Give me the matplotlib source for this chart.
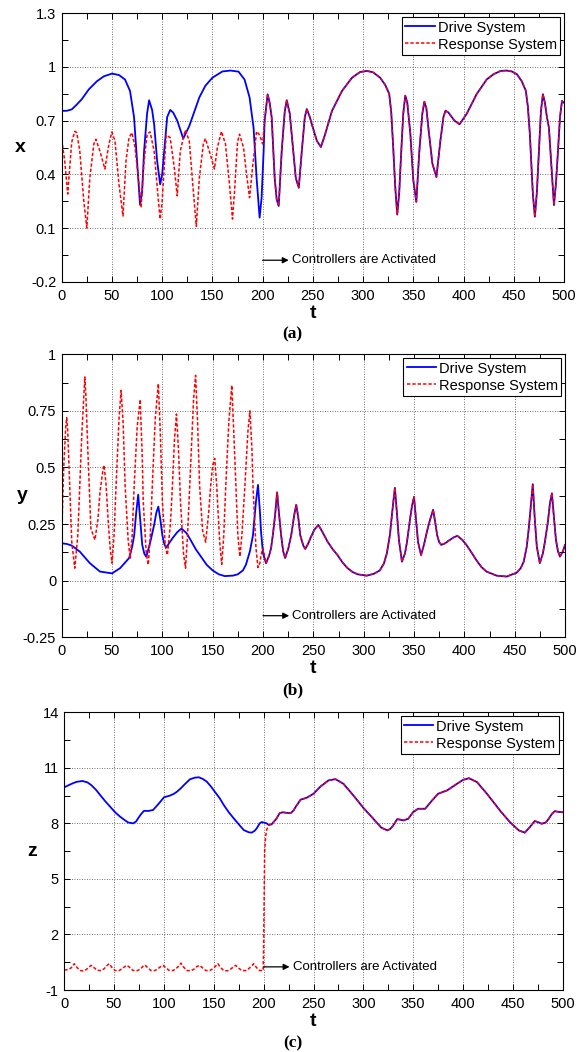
import numpy as np
import matplotlib
matplotlib.use('Agg')
import matplotlib.pyplot as plt

plt.rcParams['font.family'] = ['Liberation Sans', 'DejaVu Sans']
plt.rcParams['axes.unicode_minus'] = False

# ---- panel (a): x ----
t_xd = np.array([0, 5, 10, 15, 20, 27, 35, 42, 50, 57, 63, 68, 72, 75, 78, 80, 82, 85, 87, 90,
                 92, 95, 98, 100, 102, 105, 108, 111, 115, 121, 127, 132, 137, 143, 150, 160, 168,
                 176, 182, 187, 191, 194, 197, 199, 201, 202, 205, 207, 209, 212, 214, 216, 219,
                 222, 224, 227, 229, 233, 236, 239, 242, 244, 247, 249, 254, 258, 262, 269, 279,
                 289, 297, 304, 310, 317, 322, 326, 328, 330, 332, 334, 336, 338, 340, 342, 344,
                 347, 350, 353, 356, 359, 361, 363, 365, 369, 373, 377, 380, 382, 385, 387, 391,
                 396, 403, 413, 423, 430, 437, 443, 448, 453, 458, 462, 464, 466, 469, 471, 473,
                 475, 477, 479, 481, 483, 485, 488, 490, 492, 494, 496, 498, 500])
x_d = np.array([0.755, 0.755, 0.763, 0.79, 0.82, 0.875, 0.92, 0.948, 0.963, 0.955, 0.93, 0.866,
                0.72, 0.475, 0.23, 0.30, 0.53, 0.74, 0.814, 0.76, 0.68, 0.475, 0.344, 0.40, 0.53,
                0.72, 0.76, 0.745, 0.70, 0.60, 0.67, 0.75, 0.83, 0.895, 0.94, 0.975, 0.98, 0.974,
                0.93, 0.83, 0.66, 0.38, 0.158, 0.27, 0.53, 0.70, 0.847, 0.80, 0.72, 0.38, 0.26,
                0.223, 0.53, 0.75, 0.814, 0.74, 0.62, 0.38, 0.325, 0.53, 0.72, 0.765, 0.72, 0.68,
                0.587, 0.553, 0.62, 0.754, 0.866, 0.94, 0.972, 0.978, 0.97, 0.94, 0.90, 0.85,
                0.75, 0.55, 0.33, 0.175, 0.30, 0.53, 0.74, 0.84, 0.80, 0.63, 0.367, 0.246, 0.53,
                0.74, 0.806, 0.77, 0.66, 0.46, 0.385, 0.59, 0.72, 0.756, 0.745, 0.73, 0.70, 0.68,
                0.737, 0.848, 0.93, 0.96, 0.978, 0.98, 0.975, 0.96, 0.92, 0.867, 0.78, 0.626,
                0.29, 0.163, 0.30, 0.53, 0.75, 0.848, 0.80, 0.72, 0.66, 0.40, 0.228, 0.35, 0.53,
                0.72, 0.81, 0.80])
t_xr = np.array([0, 3, 6, 8, 10, 13, 15, 18, 22, 25, 28, 32, 34, 38, 43, 47, 50, 53, 57, 61,
                 64, 67, 70, 73, 77, 79, 82, 85, 88, 92, 96, 98, 100, 102, 104, 108, 112, 115,
                 118, 123, 127, 131, 134, 137, 141, 143, 148, 152, 155, 159, 163, 167, 170, 172,
                 175, 177, 181, 184, 187, 190, 194, 197, 200, 202])
x_r = np.array([0.596, 0.475, 0.29, 0.44, 0.58, 0.64, 0.633, 0.53, 0.25, 0.10, 0.38, 0.57,
                0.596, 0.53, 0.43, 0.57, 0.637, 0.587, 0.345, 0.167, 0.475, 0.605, 0.633, 0.55,
                0.345, 0.214, 0.475, 0.623, 0.637, 0.53, 0.27, 0.15, 0.25, 0.44, 0.62, 0.605,
                0.44, 0.28, 0.53, 0.648, 0.587, 0.307, 0.11, 0.38, 0.57, 0.60, 0.51, 0.43, 0.55,
                0.64, 0.57, 0.345, 0.15, 0.30, 0.58, 0.624, 0.55, 0.40, 0.27, 0.44, 0.64, 0.62,
                0.57, 0.70])

# ---- panel (b): y ----
t_yd = np.array([0, 5, 10, 18, 28, 38, 50, 58, 64, 67, 70, 72, 74, 76, 78, 80, 82, 84, 88, 92,
                 94, 96, 98, 100, 102, 104, 110, 115, 119, 124, 128, 133, 138, 144, 150, 156,
                 162, 170, 175, 180, 183, 187, 190, 193, 195, 197, 198, 200, 203, 206, 208, 210,
                 212, 214, 216, 218, 220, 222, 225, 228, 231, 233, 235, 237, 240, 242, 245, 247,
                 251, 255, 259, 264, 269, 274, 279, 284, 289, 294, 303, 310, 316, 320, 323, 326,
                 329, 331, 333, 335, 338, 341, 343, 346, 348, 350, 352, 354, 357, 360, 363, 366,
                 369, 371, 373, 375, 377, 381, 384, 389, 393, 398, 402, 407, 412, 417, 422, 432,
                 442, 452, 456, 459, 462, 464, 466, 468, 470, 472, 475, 478, 480, 483, 485, 487,
                 489, 491, 493, 495, 498, 500])
y_d = np.array([0.165, 0.162, 0.155, 0.128, 0.077, 0.04, 0.032, 0.055, 0.085, 0.10, 0.15, 0.2,
                0.30, 0.38, 0.27, 0.158, 0.12, 0.105, 0.17, 0.25, 0.30, 0.327, 0.27, 0.2, 0.16,
                0.147, 0.187, 0.215, 0.23, 0.21, 0.18, 0.14, 0.108, 0.07, 0.045, 0.028, 0.02,
                0.022, 0.028, 0.045, 0.07, 0.13, 0.2, 0.35, 0.423, 0.30, 0.217, 0.12, 0.077,
                0.11, 0.143, 0.21, 0.29, 0.39, 0.29, 0.2, 0.13, 0.10, 0.14, 0.2, 0.29, 0.335,
                0.28, 0.2, 0.155, 0.14, 0.165, 0.187, 0.225, 0.246, 0.215, 0.173, 0.14, 0.113,
                0.08, 0.055, 0.038, 0.028, 0.022, 0.03, 0.045, 0.075, 0.12, 0.2, 0.33, 0.41,
                0.30, 0.18, 0.084, 0.12, 0.17, 0.27, 0.33, 0.37, 0.27, 0.17, 0.113, 0.16, 0.22,
                0.27, 0.313, 0.26, 0.2, 0.17, 0.158, 0.165, 0.175, 0.19, 0.198, 0.18, 0.158,
                0.125, 0.09, 0.06, 0.04, 0.022, 0.018, 0.035, 0.055, 0.084, 0.15, 0.23, 0.33,
                0.426, 0.27, 0.15, 0.077, 0.12, 0.17, 0.26, 0.34, 0.386, 0.28, 0.18, 0.13, 0.106,
                0.13, 0.158])
t_yr = np.array([0, 2, 4, 5, 6, 8, 10, 13, 16, 18, 20, 22, 23, 24, 26, 29, 33, 36, 38, 41, 42,
                 44, 46, 48, 50, 52, 54, 57, 59, 61, 63, 66, 68, 70, 72, 75, 78, 80, 81, 84, 86,
                 88, 90, 93, 96, 98, 100, 103, 105, 108, 110, 112, 114, 116, 118, 121, 123, 125,
                 128, 131, 133, 135, 137, 140, 143, 146, 148, 150, 152, 154, 155, 157, 159, 161,
                 163, 166, 169, 171, 173, 175, 177, 179, 182, 185, 187, 189, 190, 193, 195, 197,
                 198, 200, 203])
y_r = np.array([0.2, 0.5, 0.68, 0.72, 0.66, 0.42, 0.17, 0.055, 0.2, 0.42, 0.65, 0.82, 0.90,
                0.82, 0.57, 0.23, 0.18, 0.27, 0.39, 0.49, 0.51, 0.43, 0.275, 0.15, 0.077, 0.2,
                0.42, 0.72, 0.84, 0.70, 0.42, 0.18, 0.097, 0.2, 0.42, 0.68, 0.80, 0.55, 0.35,
                0.12, 0.07, 0.2, 0.42, 0.72, 0.87, 0.65, 0.35, 0.15, 0.113, 0.25, 0.42, 0.62,
                0.736, 0.58, 0.35, 0.12, 0.055, 0.2, 0.5, 0.8, 0.907, 0.7, 0.42, 0.22, 0.17, 0.3,
                0.42, 0.51, 0.54, 0.42, 0.33, 0.17, 0.072, 0.2, 0.42, 0.70, 0.863, 0.65, 0.42,
                0.2, 0.106, 0.2, 0.42, 0.66, 0.75, 0.58, 0.42, 0.143, 0.058, 0.08, 0.113, 0.143,
                0.077])

# ---- panel (c): z ----
t_zd = np.array([0, 7, 12, 18, 23, 27, 32, 36, 41, 46, 51, 56, 60, 64, 69, 72, 74, 77, 80, 84,
                 89, 92, 95, 100, 106, 110, 113, 117, 120, 126, 131, 135, 139, 143, 147, 151, 156,
                 160, 165, 170, 175, 180, 185, 188, 191, 193, 196, 198, 200, 203, 205, 208, 213,
                 216, 219, 223, 227, 230, 232, 237, 243, 250, 257, 265, 272, 280, 290, 300, 310,
                 318, 324, 327, 330, 334, 337, 340, 345, 350, 355, 362, 369, 375, 384, 394, 400,
                 406, 414, 424, 437, 447, 456, 462, 467, 472, 476, 479, 483, 486, 489, 492, 496,
                 500])
z_d = np.array([9.95, 10.13, 10.24, 10.29, 10.22, 10.07, 9.8, 9.53, 9.2, 8.9, 8.6, 8.36, 8.2,
                8.05, 8.0, 8.1, 8.27, 8.5, 8.68, 8.67, 8.72, 8.9, 9.08, 9.41, 9.5, 9.6, 9.71,
                9.9, 10.07, 10.38, 10.47, 10.49, 10.4, 10.25, 10.0, 9.71, 9.35, 8.99, 8.6, 8.27,
                7.95, 7.64, 7.52, 7.5, 7.6, 7.73, 8.0, 8.07, 8.05, 8.0, 7.92, 7.95, 8.27, 8.55,
                8.6, 8.57, 8.55, 8.7, 8.88, 9.28, 9.38, 9.6, 9.99, 10.32, 10.39, 10.14, 9.51,
                8.84, 8.25, 7.77, 7.62, 7.7, 7.89, 8.23, 8.2, 8.16, 8.25, 8.61, 8.79, 8.79, 9.24,
                9.6, 9.78, 10.14, 10.35, 10.44, 10.23, 9.6, 8.7, 8.07, 7.62, 7.5, 7.8, 8.13, 8.05,
                7.98, 8.05, 8.25, 8.5, 8.66, 8.62, 8.6])
t_zr = np.array([0, 4, 7, 10, 13, 16, 19, 22, 25, 27, 30, 33, 37, 40, 42, 45, 48, 51, 55, 58,
                 61, 63, 66, 69, 73, 76, 79, 81, 84, 87, 91, 94, 97, 99, 102, 105, 109, 112, 115,
                 117, 120, 123, 127, 130, 133, 136, 139, 142, 146, 149, 152, 154, 157, 160, 164,
                 167, 170, 172, 175, 178, 182, 185, 188, 190, 193, 196, 199.5, 200, 200.5, 201,
                 202, 203, 205])
z_r = np.array([0.08, 0.1, 0.2, 0.42, 0.2, 0.05, 0.03, 0.1, 0.25, 0.33, 0.2, 0.06, 0.05, 0.15,
                0.28, 0.42, 0.2, 0.05, 0.05, 0.15, 0.28, 0.33, 0.2, 0.05, 0.04, 0.12, 0.28, 0.35,
                0.18, 0.05, 0.05, 0.15, 0.28, 0.33, 0.2, 0.06, 0.05, 0.15, 0.3, 0.45, 0.22, 0.05,
                0.04, 0.12, 0.27, 0.33, 0.18, 0.05, 0.05, 0.15, 0.3, 0.42, 0.2, 0.05, 0.04, 0.13,
                0.27, 0.33, 0.18, 0.05, 0.05, 0.15, 0.3, 0.42, 0.2, 0.05, 0.05, 1.5, 4.0, 6.5,
                7.3, 7.65, 7.9])

# after the controllers switch on, the response follows the drive
t_xr_all = np.concatenate([t_xr, t_xd[t_xd > t_xr[-1]]])
x_r_all = np.concatenate([x_r, x_d[t_xd > t_xr[-1]]])
t_yr_all = np.concatenate([t_yr, t_yd[t_yd > t_yr[-1]]])
y_r_all = np.concatenate([y_r, y_d[t_yd > t_yr[-1]]])
t_zr_all = np.concatenate([t_zr, t_zd[t_zd > t_zr[-1]]])
z_r_all = np.concatenate([z_r, z_d[t_zd > t_zr[-1]]])

W, H = 585, 1052
fig = plt.figure(figsize=(W / 100, H / 100), dpi=100)


def px_axes(l, r, t, b):
    return fig.add_axes([l / W, 1 - b / H, (r - l) / W, (b - t) / H])


panels = [
    dict(box=(61.7, 564, 13.3, 281.7), td=t_xd, vd=x_d, tr=t_xr_all, vr=x_r_all,
         ylim=(-0.2, 1.3), yt=[-0.2, 0.1, 0.4, 0.7, 1, 1.3],
         ytl=['-0.2', '0.1', '0.4', '0.7', '1', '1.3'], lab='x', ann=-0.08, tag='(a)',
         ylab_xy=(20, 148)),
    dict(box=(61.7, 565, 354.3, 637.2), td=t_yd, vd=y_d, tr=t_yr_all, vr=y_r_all,
         ylim=(-0.25, 1), yt=[-0.25, 0, 0.25, 0.5, 0.75, 1],
         ytl=['-0.25', '0', '0.25', '0.5', '0.75', '1'], lab='y', ann=-0.155, tag='(b)',
         ylab_xy=(22, 496)),
    dict(box=(64.3, 562.7, 712.3, 990), td=t_zd, vd=z_d, tr=t_zr_all, vr=z_r_all,
         ylim=(-1, 14), yt=[-1, 2, 5, 8, 11, 14],
         ytl=['-1', '2', '5', '8', '11', '14'], lab='z', ann=0.25, tag='(c)',
         ylab_xy=(32, 852)),
]

for p in panels:
    l, r, t, b = p['box']
    ax = px_axes(l, r, t, b)
    ax.plot(p['td'], p['vd'], color=(0, 0, 1), lw=1.3, label='Drive System')
    ax.plot(p['tr'], p['vr'], color=(1, 0, 0), lw=1.1, ls=(0, (2.2, 1.3)),
            label='Response System')
    ax.set_xlim(0, 500)
    ax.set_ylim(*p['ylim'])
    ax.set_xticks(np.arange(0, 501, 50))
    ax.set_xticks(np.arange(25, 500, 50), minor=True)
    ax.set_yticks(p['yt'])
    ax.set_yticklabels(p['ytl'])
    ax.set_yticks([(p['yt'][i] + p['yt'][i + 1]) / 2 for i in range(5)], minor=True)
    ax.tick_params(which='both', direction='in', top=True, right=True, length=4,
                   width=0.7, labelsize=10.5)
    ax.tick_params(axis='x', pad=5)
    ax.tick_params(axis='y', pad=4)
    ax.grid(True, which='major', color='0.25', ls=(0, (1, 2)), lw=0.6)
    for s in ax.spines.values():
        s.set_linewidth(0.8)
    leg = ax.legend(loc='upper right', fontsize=10.5, fancybox=False, framealpha=1,
                    edgecolor='k', handlelength=2.0, handletextpad=0.2,
                    borderaxespad=0.25, borderpad=0.25, labelspacing=0.2)
    leg.get_frame().set_linewidth(0.8)
    ax.annotate('', xy=(226, p['ann']), xytext=(200, p['ann']),
                arrowprops=dict(arrowstyle='-|>', color='k', lw=0.9, mutation_scale=9,
                                shrinkA=0, shrinkB=0))
    ax.text(229, p['ann'], 'Controllers are Activated', va='center', fontsize=9.5)
    fig.text(((l + r) / 2) / W, 1 - (b + 36) / H, 't', ha='center', va='baseline',
             fontsize=14, fontweight='bold')
    fig.text(0.5, 1 - (b + 57) / H, p['tag'], ha='center', va='baseline', fontsize=12.5,
             fontweight='bold', family='Liberation Serif')
    fig.text(p['ylab_xy'][0] / W, 1 - p['ylab_xy'][1] / H, p['lab'], ha='center',
             va='center', fontsize=14, fontweight='bold')

fig.savefig('out.png', dpi=100, facecolor='white')
